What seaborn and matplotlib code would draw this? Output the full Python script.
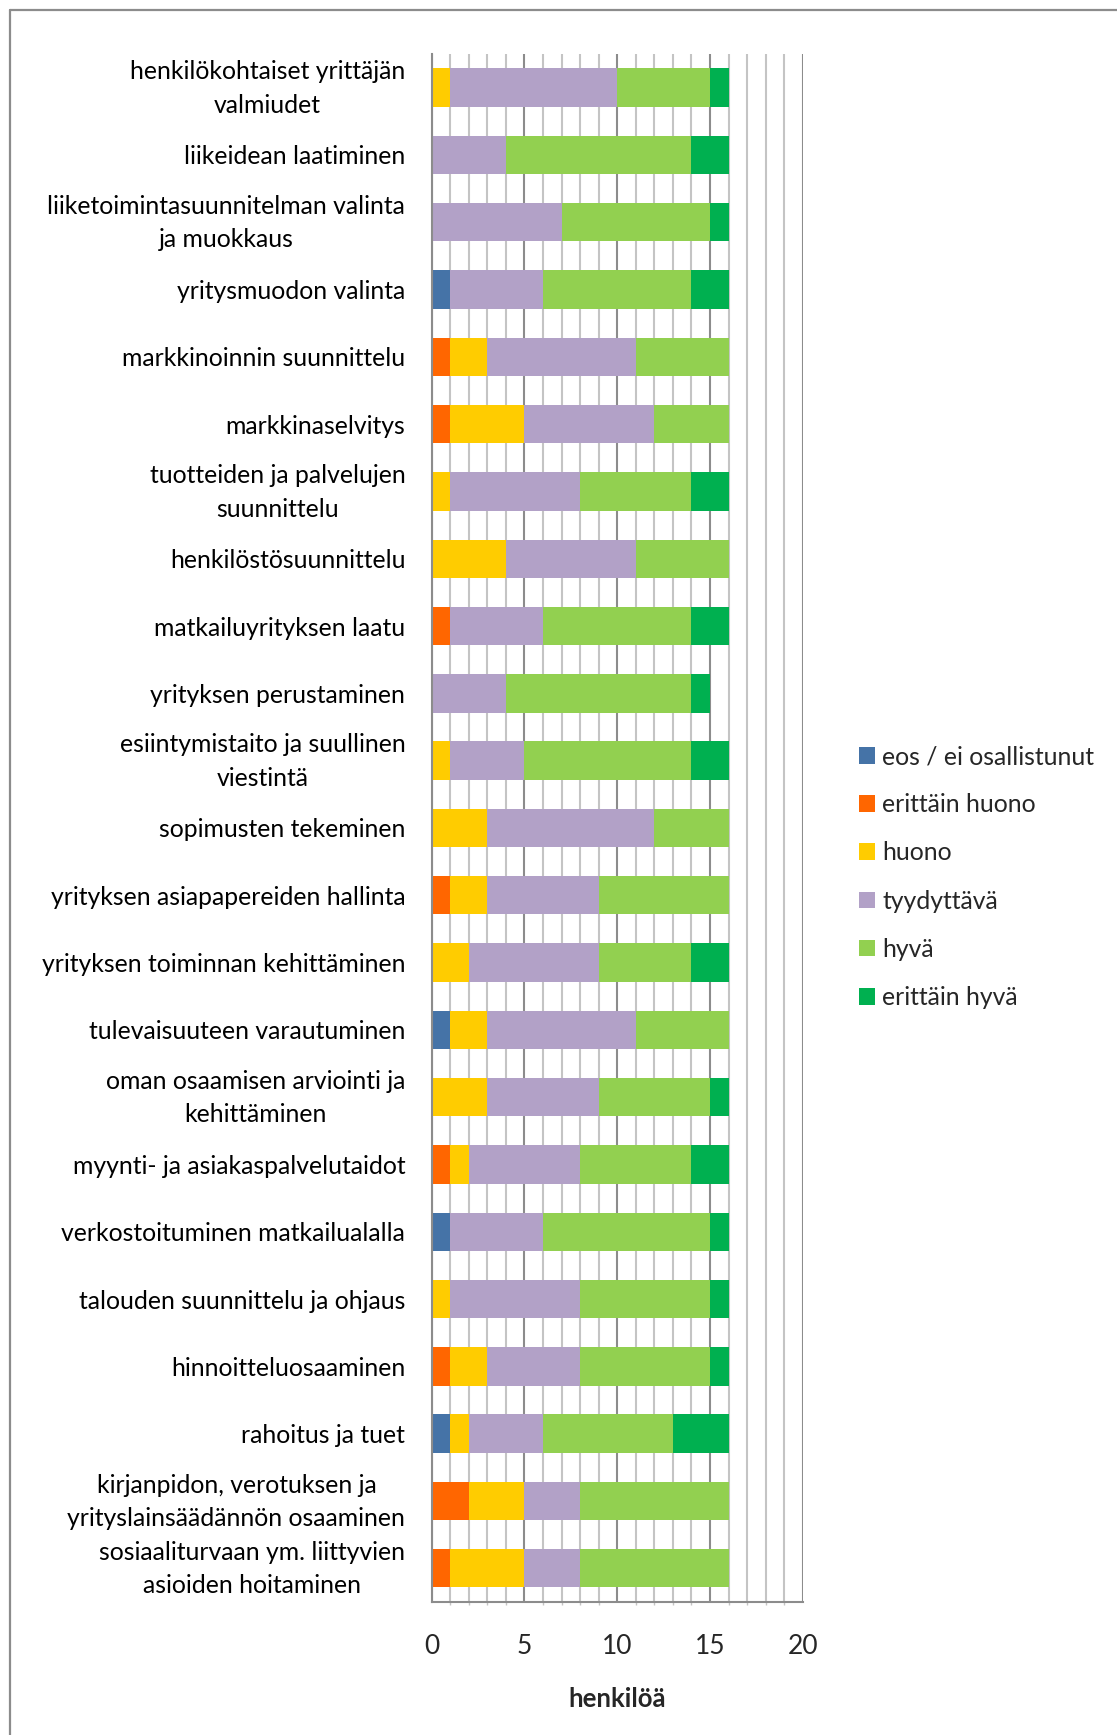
"""Stacked horizontal bar chart of self-assessed entrepreneurial skills."""

import matplotlib
matplotlib.use("Agg")
import matplotlib.pyplot as plt
from matplotlib.patches import Patch
from matplotlib.lines import Line2D
from matplotlib.ticker import MultipleLocator
from matplotlib.transforms import ScaledTranslation
import numpy as np
import pandas as pd
import seaborn as sns

categories = [
    "henkilökohtaiset yrittäjän\nvalmiudet",
    "liikeidean laatiminen",
    "liiketoimintasuunnitelman valinta\nja muokkaus",
    "yritysmuodon valinta",
    "markkinoinnin suunnittelu",
    "markkinaselvitys",
    "tuotteiden ja palvelujen\nsuunnittelu",
    "henkilöstösuunnittelu",
    "matkailuyrityksen laatu",
    "yrityksen perustaminen",
    "esiintymistaito ja suullinen\nviestintä",
    "sopimusten tekeminen",
    "yrityksen asiapapereiden hallinta",
    "yrityksen toiminnan kehittäminen",
    "tulevaisuuteen varautuminen",
    "oman osaamisen arviointi ja\nkehittäminen",
    "myynti- ja asiakaspalvelutaidot",
    "verkostoituminen matkailualalla",
    "talouden suunnittelu ja ohjaus",
    "hinnoitteluosaaminen",
    "rahoitus ja tuet",
    "kirjanpidon, verotuksen ja\nyrityslainsäädännön osaaminen",
    "sosiaaliturvaan ym. liittyvien\nasioiden hoitaminen",
]

ratings = ["eos / ei osallistunut", "erittäin huono", "huono",
           "tyydyttävä", "hyvä", "erittäin hyvä"]

eos = [0, 0, 0, 1, 0, 0, 0, 0, 0, 0, 0, 0, 0, 0, 1, 0, 0, 1, 0, 0, 1, 0, 0]
erittain_huono = [0, 0, 0, 0, 1, 1, 0, 0, 1, 0, 0, 0, 1, 0, 0, 0, 1, 0, 0, 1, 0, 2, 1]
huono = [1, 0, 0, 0, 2, 4, 1, 4, 0, 0, 1, 3, 2, 2, 2, 3, 1, 0, 1, 2, 1, 3, 4]
tyydyttava = [9, 4, 7, 5, 8, 7, 7, 7, 5, 4, 4, 9, 6, 7, 8, 6, 6, 5, 7, 5, 4, 3, 3]
hyva = [5, 10, 8, 8, 5, 4, 6, 5, 8, 10, 9, 4, 7, 5, 5, 6, 6, 9, 7, 7, 7, 8, 8]
erittain_hyva = [1, 2, 1, 2, 0, 0, 2, 0, 2, 1, 2, 0, 0, 2, 0, 1, 2, 1, 1, 1, 3, 0, 0]

colors = ["#4573A7", "#FF6600", "#FFCC00", "#B2A1C7", "#92D050", "#00B050"]

series = [eos, erittain_huono, huono, tyydyttava, hyva, erittain_hyva]
df = pd.DataFrame({
    "kategoria": np.repeat(categories, len(ratings)),
    "arvio": ratings * len(categories),
    "lkm": np.array(series).T.ravel(),
})
df["kategoria"] = pd.Categorical(df["kategoria"], categories=categories)

sns.set_theme(style="white")
plt.rcParams["font.family"] = ["Lato", "DejaVu Sans"]

fig = plt.figure(figsize=(11.17, 17.35), dpi=100)
ax = fig.add_axes([0.3865, 0.0767, 0.3322, 0.8922])

palette = dict(zip(ratings, colors))
# seaborn stacks the last hue level at the baseline, so reverse the order
sns.histplot(
    data=df, y="kategoria", hue="arvio", weights="lkm",
    hue_order=ratings[::-1], palette=palette, multiple="stack",
    discrete=True, shrink=0.57, alpha=1, linewidth=0, edgecolor="none",
    legend=False, ax=ax,
)

ax.set_ylim(len(categories) - 0.5, -0.5)
ax.set_yticks(range(len(categories)))
ax.set_yticklabels(categories, multialignment="center", linespacing=1.55)

ax.set_xlim(0, 20)
ax.xaxis.set_major_locator(MultipleLocator(5))
ax.xaxis.set_minor_locator(MultipleLocator(1))
ax.set_axisbelow(True)
ax.grid(which="minor", axis="x", color="#c4c4c4", linewidth=1.5)
ax.grid(which="major", axis="x", color="#8c8c8c", linewidth=1.5)
ax.grid(which="major", axis="y", visible=False)

for side in ["top", "right"]:
    ax.spines[side].set_visible(False)
for side in ["left", "bottom"]:
    ax.spines[side].set_color("#8c8c8c")
    ax.spines[side].set_linewidth(1.5)

ax.tick_params(axis="y", length=0, pad=19, labelsize=17.8, colors="black")
ax.tick_params(axis="x", which="major", direction="out", length=6,
               width=1.5, color="#8c8c8c", pad=17, labelsize=19)
ax.tick_params(axis="x", which="minor", direction="out", length=2,
               width=1, color="#c4c4c4", bottom=True)
ax.set_ylabel("")
ax.set_xlabel("henkilöä", fontsize=18.5, fontweight="bold", labelpad=20)

# two-line labels sit a little low, lift them to the bar centre
# (after tick_params, which resets the label transforms)
lift = ScaledTranslation(0, 4.5 / 72, fig.dpi_scale_trans)
for lbl in ax.get_yticklabels():
    if "\n" in lbl.get_text():
        lbl.set_transform(lbl.get_transform() + lift)

handles = [Patch(facecolor=c, edgecolor="none") for c in colors]
fig.legend(handles, ratings, loc="center left",
           bbox_to_anchor=(0.769, 0.4945), frameon=False, fontsize=17.8,
           handlelength=0.65, handleheight=0.65, handletextpad=0.3,
           labelspacing=1.02, borderpad=0, borderaxespad=0)

# outer chart border (only left and top are visible in the crop)
fig.add_artist(Line2D([10 / 1117, 1], [1 - 10 / 1735, 1 - 10 / 1735],
                      color="#8c8c8c", linewidth=1.6))
fig.add_artist(Line2D([10 / 1117, 10 / 1117], [0, 1 - 10 / 1735],
                      color="#8c8c8c", linewidth=1.6))

fig.savefig("out.png", dpi=100)
